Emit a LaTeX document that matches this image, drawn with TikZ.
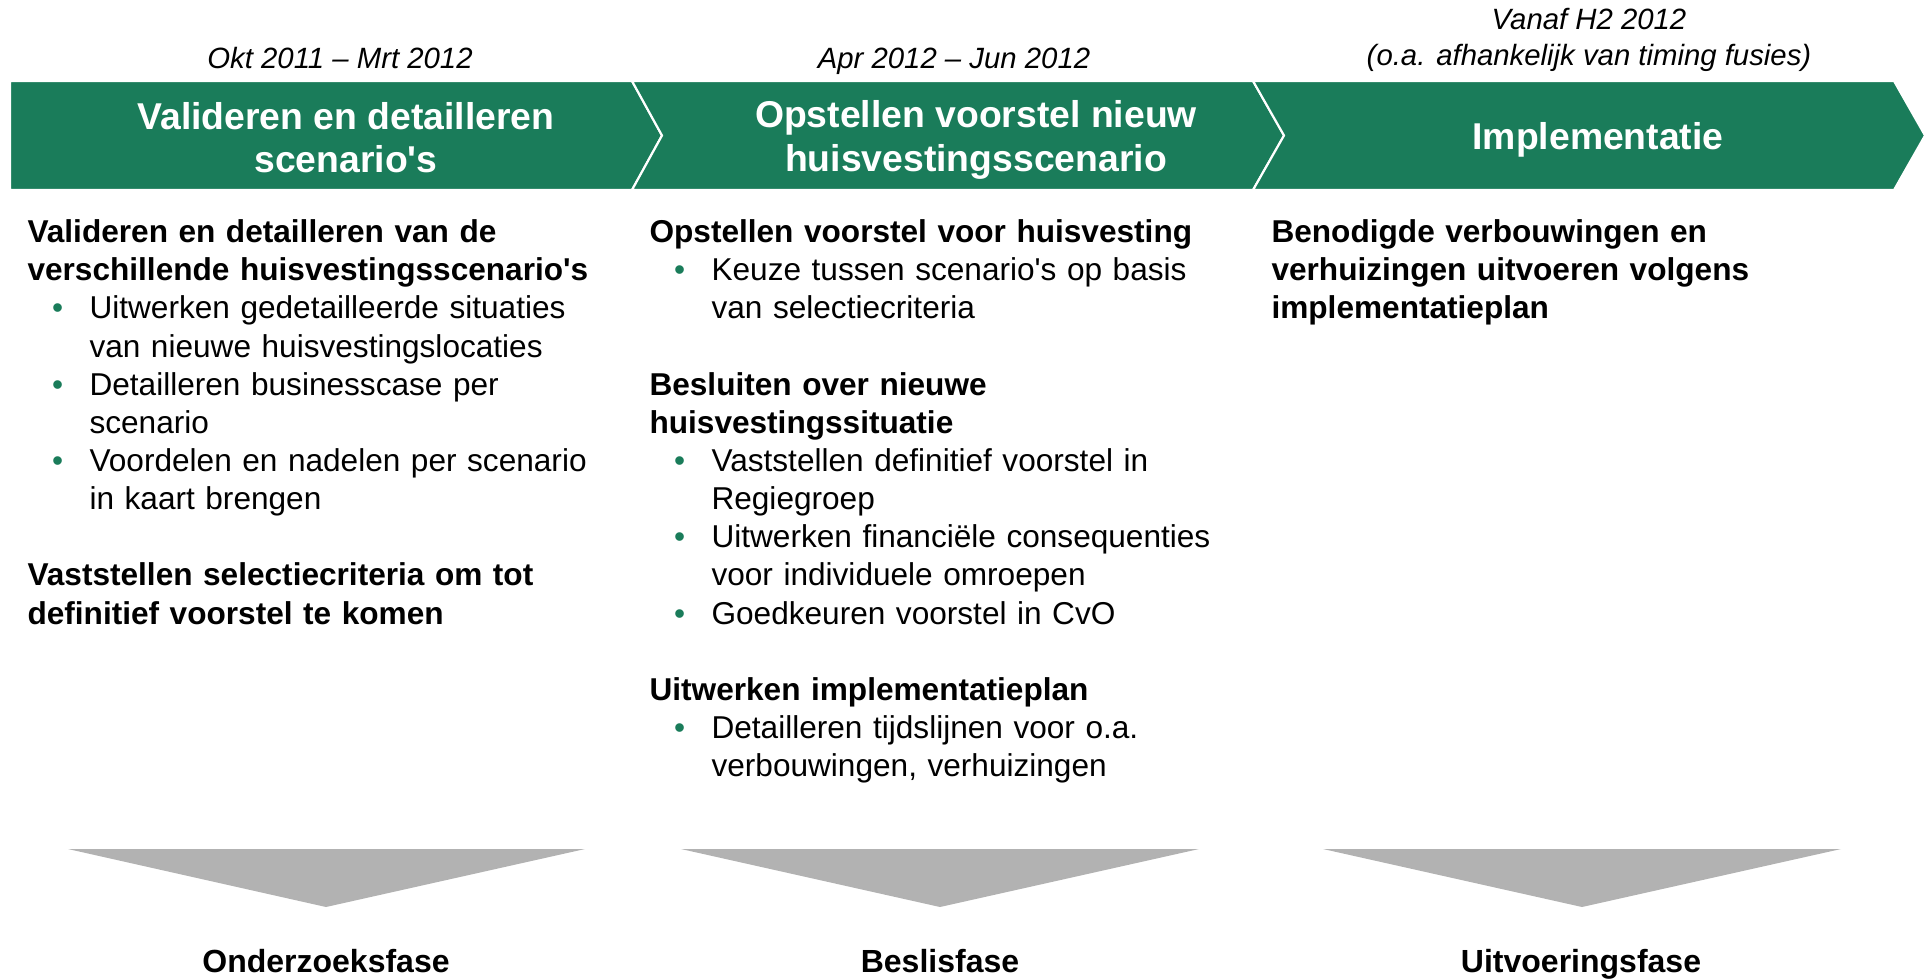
\documentclass[tikz,border=0pt]{standalone}
\usepackage{fontspec}
\setmainfont{Liberation Sans}
\usepackage{tikz}
\usetikzlibrary{positioning}
\definecolor{groen}{HTML}{1A7C5A}
\definecolor{grijs}{HTML}{B2B2B2}
\newcommand{\kop}[1]{\par\leftskip=0pt\noindent\textbf{#1}\par}
\newcommand{\punt}[1]{\par\leftskip=23.25pt\noindent\llap{\textcolor{groen}{\textbullet}\hspace{9.9pt}}#1\par}
\newcommand{\witregel}{\par\vskip\baselineskip}
\tikzset{
  fase/.style      = {fill=groen, draw=white, line width=0.8pt, line join=miter},
  fasetitel/.style = {text=white, font=\fontsize{14}{16.2}\selectfont\bfseries, align=center, inner sep=0pt},
  periode/.style   = {font=\fontsize{11}{13.4}\selectfont\itshape, align=center, inner sep=0pt},
  kolom/.style     = {anchor=north west, inner sep=0pt, text width=230pt, align=left,
                      font=\fontsize{11.85}{14.3}\selectfont},
  trechter/.style  = {fill=grijs},
  fasenaam/.style  = {font=\fontsize{12}{14.4}\selectfont\bfseries, inner sep=0pt, anchor=base},
}

\begin{document}
\begin{tikzpicture}[x=0.375pt, y=-0.375pt]
  \useasboundingbox (0,0) rectangle (1932,978);

  % pijlbalk
  \filldraw[fase] (10,81) -- (632,81) -- (662,135.5) -- (632,190) -- (10,190) -- cycle;
  \filldraw[fase] (632,81) -- (1253,81) -- (1284,135.5) -- (1253,190) -- (632,190) -- (662,135.5) -- cycle;
  \filldraw[fase] (1253,81) -- (1894,81) -- (1925,135.5) -- (1894,190) -- (1253,190) -- (1284,135.5) -- cycle;

  \node[fasetitel] (t1) at (346,137.5) {Valideren en detailleren\\scenario\textquotesingle s};
  \node[fasetitel] (t2) at (976,140) {Opstellen voorstel nieuw\\huisvestingsscenario};
  \node[fasetitel] (t3) at (1598,139.5) {Implementatie};

  \node[periode, anchor=base] (p1) at (340,68.5) {Okt 2011 -- Mrt 2012};
  \node[periode, anchor=base] (p2) at (954,68.5) {Apr 2012 -- Jun 2012};
  \node[periode] (p3) at (1589,40) {Vanaf H2 2012\\(o.a. afhankelijk van timing fusies)};

  % kolommen
  \node[kolom] (k1) at (27,204) {%
    \kop{Valideren en detailleren van de\newline verschillende huisvestingsscenario\textquotesingle s}
    \punt{Uitwerken gedetailleerde situaties\newline van nieuwe huisvestingslocaties}
    \punt{Detailleren businesscase per\newline scenario}
    \punt{Voordelen en nadelen per scenario\newline in kaart brengen}
    \witregel
    \kop{Vaststellen selectiecriteria om tot\newline definitief voorstel te komen}};

  \node[kolom] (k2) at (649,204) {%
    \kop{Opstellen voorstel voor huisvesting}
    \punt{Keuze tussen scenario\textquotesingle s op basis\newline van selectiecriteria}
    \witregel
    \kop{Besluiten over nieuwe\newline huisvestingssituatie}
    \punt{Vaststellen definitief voorstel in\newline Regiegroep}
    \punt{Uitwerken financiële consequenties\newline voor individuele omroepen}
    \punt{Goedkeuren voorstel in CvO}
    \witregel
    \kop{Uitwerken implementatieplan}
    \punt{Detailleren tijdslijnen voor o.a.\newline verbouwingen, verhuizingen}};

  \node[kolom] (k3) at (1271,204) {%
    \kop{Benodigde verbouwingen en\newline verhuizingen uitvoeren volgens\newline implementatieplan}};

  % fasen
  \fill[trechter] (68,849) -- (585,849) -- (326,907) -- cycle;
  \fill[trechter] (681,849) -- (1199,849) -- (940,907) -- cycle;
  \fill[trechter] (1323,849) -- (1841,849) -- (1582,907) -- cycle;

  \node[fasenaam] (f1) at (326,972) {Onderzoeksfase};
  \node[fasenaam] (f2) at (940,972) {Beslisfase};
  \node[fasenaam] (f3) at (1581,972) {Uitvoeringsfase};
\end{tikzpicture}
\end{document}
